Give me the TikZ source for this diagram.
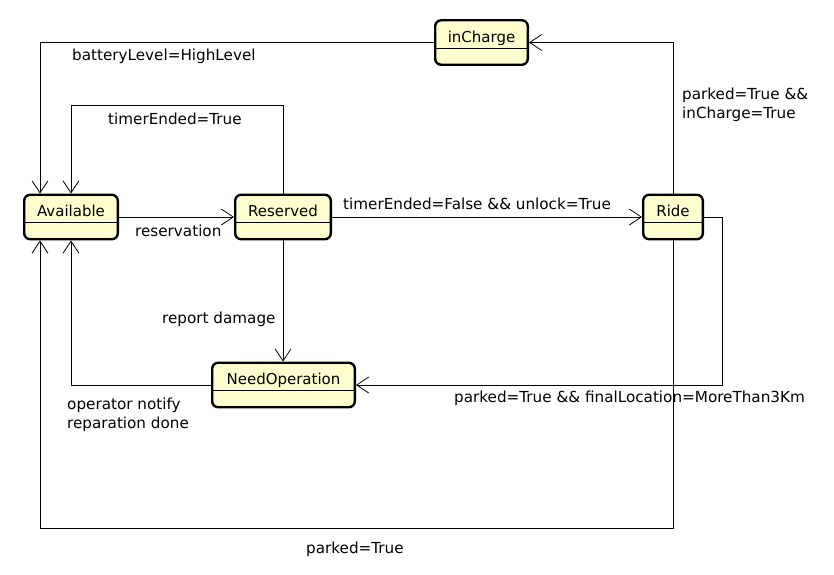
\documentclass[tikz,border=0pt]{standalone}
\usepackage{fontspec}
\setmainfont{DejaVu Sans}
\usetikzlibrary{arrows.meta}
\definecolor{statefill}{RGB}{254,254,206}

\begin{document}
\begin{tikzpicture}[x=1pt, y=-1pt,
  state/.style={draw, line width=2.4pt, rounded corners=6pt, fill=statefill,
    inner sep=0pt, text height=22pt, text depth=22.5pt,
    font=\fontsize{15}{19}\selectfont,
    path picture={\draw[line width=0.8pt]
      ([yshift=-28pt]path picture bounding box.north west) --
      ([yshift=-28pt]path picture bounding box.north east);}},
  trans/.style={draw, line width=0.8pt, -{Straight Barb[length=12pt, width=16pt]}},
  guard/.style={font=\fontsize{15.2}{19}\selectfont, anchor=west, inner sep=0pt, align=left}]

  % Canvas
  \useasboundingbox (0,0) rectangle (834,574);

  % States
  \node[state, minimum width=93.6pt] (avail) at (71,217) {Available};
  \node[state, minimum width=95.6pt] (reserv) at (283,217) {Reserved};
  \node[state, minimum width=92.6pt] (incharge) at (481.5,42.5) {inCharge};
  \node[state, minimum width=59.6pt] (ride) at (673,217) {Ride};
  \node[state, minimum width=142.6pt] (needop) at (283.5,385) {NeedOperation};

  % Transitions
  \draw[trans] (incharge.west) -| ([xshift=-31pt]avail.north);
  \draw[trans] (reserv.north) -- ++(0,-88) -| (avail.north);
  \draw[trans] (avail.east) -- (reserv.west);
  \draw[trans] (reserv.east) -- (ride.west);
  \draw[trans] (ride.north) |- (incharge.east);
  \draw[trans] (ride.east) -- ++(18,0) |- (needop.east);
  \draw[trans] (reserv.south) -- (reserv.south |- needop.north);
  \draw[trans] (needop.west) -| (avail.south);
  \draw[trans] (ride.south) -- ++(0,288) -| ([xshift=-31pt]avail.south);

  % Guards
  \node[guard] (lblbattery) at (72,56) {batteryLevel=HighLevel};
  \node[guard] (lbltimer) at (108,119) {timerEnded=True};
  \node[guard] (lblreserv) at (135,231) {reservation};
  \node[guard] (lblunlock) at (343,204) {timerEnded=False \&\& unlock=True};
  \node[guard] (lblcharge) at (682,105) {parked=True \&\&\\inCharge=True};
  \node[guard] (lbldamage) at (162,319) {report damage};
  \node[guard] (lbloperator) at (67,415) {operator notify\\reparation done};
  \node[guard] (lblfar) at (454,398) {parked=True \&\& finalLocation=MoreThan3Km};
  \node[guard] (lblparked) at (306,549) {parked=True};

\end{tikzpicture}
\end{document}
